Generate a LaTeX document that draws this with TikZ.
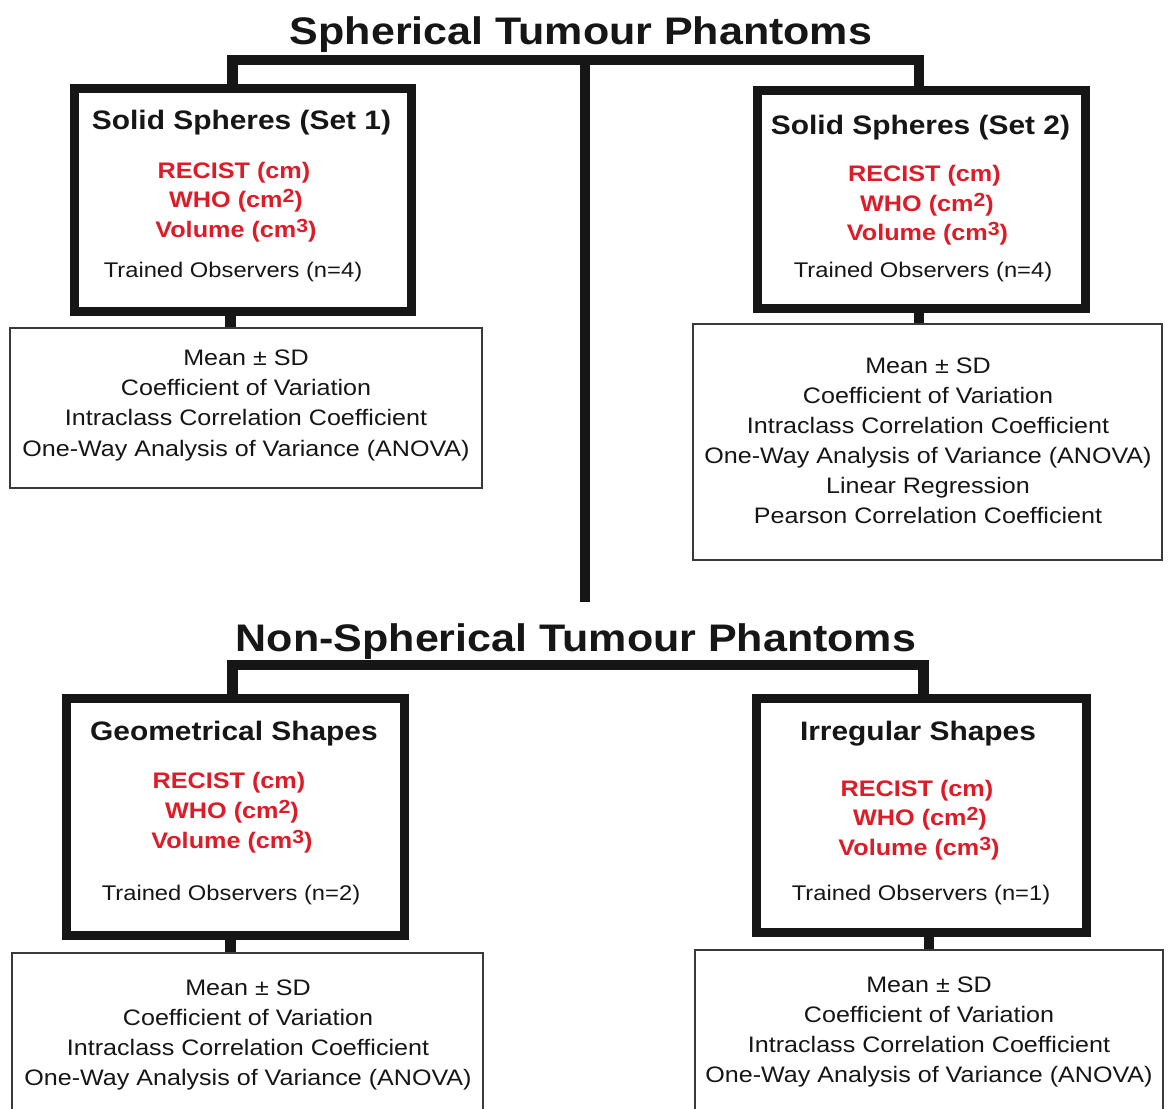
\documentclass[tikz,border=0pt]{standalone}
\usepackage{fontspec}
\setmainfont[FakeStretch=1.12]{Liberation Sans}
\usetikzlibrary{calc}
\definecolor{phred}{RGB}{222,28,40}
\definecolor{ink}{RGB}{22,22,22}
\newcommand{\setfs}[1]{\fontsize{#1}{#1}\selectfont}
\newcommand{\supr}[1]{\raisebox{4.5pt}{\setfs{19}#1}}
\tikzset{
  bigbox/.style={draw=ink, line width=9pt, inner sep=0pt, anchor=north west},
  statbox/.style={draw=ink!85, line width=2pt, inner sep=0pt, anchor=north west},
  conn/.style={draw=ink, line width=10.5pt},
  ttl/.style={font=\bfseries\setfs{38.4}, text=ink, anchor=base, inner sep=0pt},
  head/.style={font=\bfseries\setfs{26.7}, text=ink, anchor=base, inner sep=0pt},
  meas/.style={font=\bfseries\setfs{22.5}, text=phred, anchor=base, inner sep=0pt},
  obs/.style={font=\setfs{21.2}, text=ink, anchor=base, inner sep=0pt},
  stat/.style={font=\setfs{22.4}, text=ink, anchor=base, inner sep=0pt},
}
\begin{document}
\begin{tikzpicture}[x=1pt,y=-1pt]
\useasboundingbox (0,0) rectangle (1168,1109);
\clip (0,0) rectangle (1168,1109);
\fill[white] (0,0) rectangle (1168,1109);

% titles
\node[ttl] (t1) at (581,44) {Spherical Tumour Phantoms};
\node[ttl] (t2) at (576,651) {Non-Spherical Tumour Phantoms};

% main boxes
\node[bigbox, minimum width=337pt, minimum height=223pt] (b1) at (69.5,83.5) {};
\node[bigbox, minimum width=328pt, minimum height=218pt] (b2) at (752.5,85.5) {};
\node[bigbox, minimum width=338pt, minimum height=237pt] (b3) at (61.5,693.5) {};
\node[bigbox, minimum width=330pt, minimum height=234pt] (b4) at (751.5,693.5) {};

% statistics boxes
\node[statbox, minimum width=472pt, minimum height=160pt] (s1) at (9,327) {};
\node[statbox, minimum width=469pt, minimum height=236pt] (s2) at (692,323) {};
\node[statbox, minimum width=471pt, minimum height=180pt] (s3) at (11,952) {};
\node[statbox, minimum width=468pt, minimum height=183pt] (s4) at (694,949) {};

% connector coordinates
\coordinate (j1) at (232.5,60);
\coordinate (j2) at (919,60);
\coordinate (jc) at (585,60);
\coordinate (cend) at (585,602);
\coordinate (k1) at (232.5,665);
\coordinate (k2) at (923.5,665);
\coordinate (m1) at (230.5,0);
\coordinate (m2) at (919,0);
\coordinate (m3) at (230.5,0);
\coordinate (m4) at (929,0);

% connectors
\draw[conn] (b1.north -| j1) |- (j2) -- (b2.north -| j2);
\draw[conn] (jc) -- (cend);
\draw[conn] (b3.north -| k1) |- (k2) -- (b4.north -| k2);
\draw[conn] (b1.south -| m1) -- (s1.north -| m1);
\draw[conn] (b2.south -| m2) -- (s2.north -| m2);
\draw[conn] (b3.south -| m3) -- (s3.north -| m3);
\draw[conn] (b4.south -| m4) -- (s4.north -| m4);

% box 1
\node[head] (h1) at (241.5,129) {Solid Spheres (Set 1)};
\node[meas] (r1a) at (234,178) {RECIST (cm)};
\node[meas] (r1b) at (236,207) {WHO (cm\supr{2})};
\node[meas] (r1c) at (236,237) {Volume (cm\supr{3})};
\node[obs] (o1) at (233,277) {Trained Observers (n=4)};

% box 2
\node[head] (h2) at (920.5,134) {Solid Spheres (Set 2)};
\node[meas] (r2a) at (924.5,181) {RECIST (cm)};
\node[meas] (r2b) at (927,211) {WHO (cm\supr{2})};
\node[meas] (r2c) at (927.5,240) {Volume (cm\supr{3})};
\node[obs] (o2) at (923,277) {Trained Observers (n=4)};

% box 3
\node[head] (h3) at (234,740) {Geometrical Shapes};
\node[meas] (r3a) at (229,788) {RECIST (cm)};
\node[meas] (r3b) at (232,818) {WHO (cm\supr{2})};
\node[meas] (r3c) at (232,848) {Volume (cm\supr{3})};
\node[obs] (o3) at (231,900) {Trained Observers (n=2)};

% box 4
\node[head] (h4) at (918,740) {Irregular Shapes};
\node[meas] (r4a) at (917,796) {RECIST (cm)};
\node[meas] (r4b) at (920,825) {WHO (cm\supr{2})};
\node[meas] (r4c) at (919,855) {Volume (cm\supr{3})};
\node[obs] (o4) at (921,900) {Trained Observers (n=1)};

% statistics texts
\foreach \t [count=\i] in {Mean ± SD, Coefficient of Variation, Intraclass Correlation Coefficient, One-Way Analysis of Variance (ANOVA)}
  \node[stat] (s1t\i) at (246,335+30.3*\i) {\t};
\foreach \t [count=\i] in {Mean ± SD, Coefficient of Variation, Intraclass Correlation Coefficient, One-Way Analysis of Variance (ANOVA), Linear Regression, Pearson Correlation Coefficient}
  \node[stat] (s2t\i) at (928,343+30*\i) {\t};
\foreach \t [count=\i] in {Mean ± SD, Coefficient of Variation, Intraclass Correlation Coefficient, One-Way Analysis of Variance (ANOVA)}
  \node[stat] (s3t\i) at (248,964.7+30.3*\i) {\t};
\foreach \t [count=\i] in {Mean ± SD, Coefficient of Variation, Intraclass Correlation Coefficient, One-Way Analysis of Variance (ANOVA)}
  \node[stat] (s4t\i) at (929,961.7+30.3*\i) {\t};
\end{tikzpicture}
\end{document}
